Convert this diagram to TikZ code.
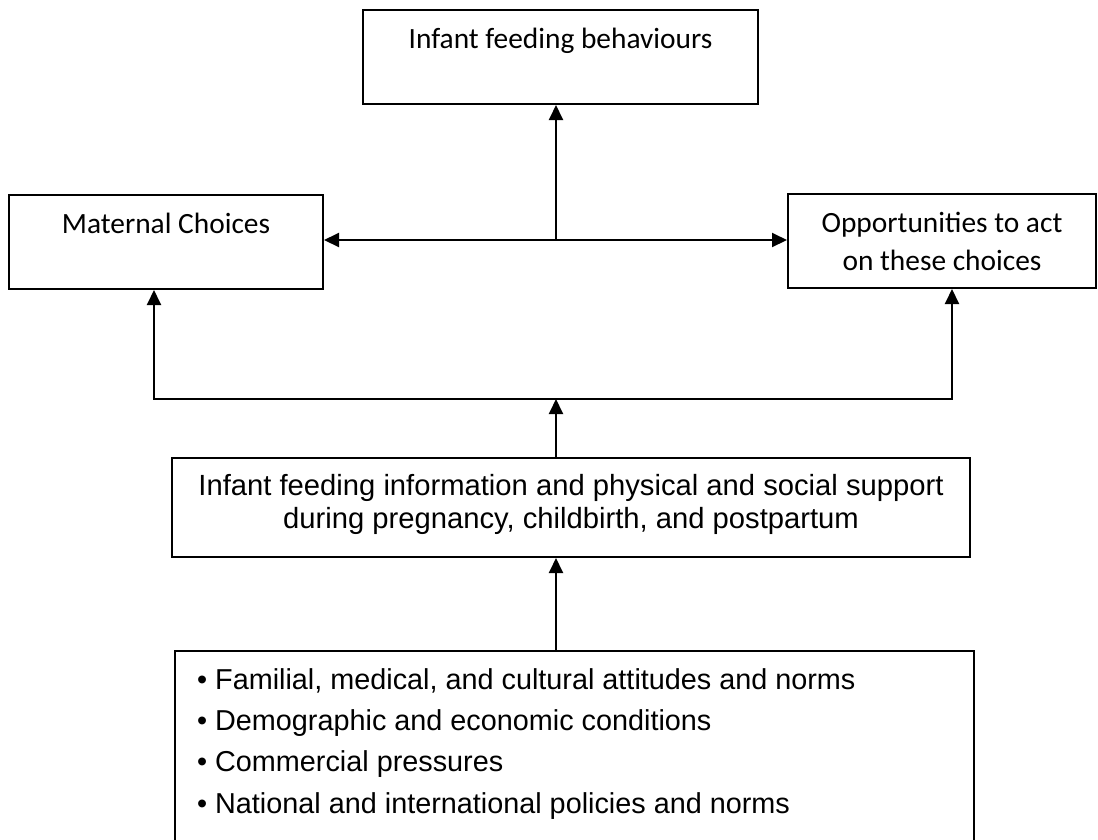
\documentclass[tikz,border=0pt]{standalone}
\usepackage{fontspec}
\newfontfamily\calibrifont{Carlito}
\newfontfamily\arialfont{Liberation Sans}
\usetikzlibrary{positioning,arrows.meta}

\newcommand{\blt}{\makebox[18pt][l]{\textbullet}}

\begin{document}
\begin{tikzpicture}[
    x=1pt, y=-1pt,
    % --- the three upper boxes (text sits on the top line) ---
    topbox/.style={draw=black, line width=2pt, align=center, inner sep=0pt,
                   minimum height=94pt,
                   font=\calibrifont\fontsize{29.4}{38}\selectfont},
    % --- support box in the middle ---
    midbox/.style={draw=black, line width=2pt, align=center, inner sep=0pt,
                   minimum width=798pt, minimum height=99pt,
                   font=\arialfont\fontsize{29.2}{33}\selectfont},
    % --- bottom box, runs off the page ---
    listbox/.style={draw=black, line width=2pt, inner sep=0pt,
                    minimum width=799pt, minimum height=260pt},
    listtext/.style={align=left, inner sep=0pt,
                     font=\arialfont\fontsize{28.8}{41.3}\selectfont},
    flow/.style={-{Triangle[length=15pt,width=14pt]}, line width=2pt, black},
  ]
  \path[use as bounding box, clip] (0,0) rectangle (1098,839);

  % ---- TOP: behaviours, choices, opportunities ---------------------------
  \node[topbox, minimum width=395pt] (behav) at (560.5,57)
        {\rule{0pt}{28pt}Infant feeding behaviours\\\rule[-8pt]{0pt}{8pt}};
  \node[topbox, minimum width=314pt] (maternal) at (166,242)
        {\rule{0pt}{28pt}Maternal Choices\\\rule[-8pt]{0pt}{8pt}};
  \node[topbox, minimum width=308pt] (opport) at (942,241)
        {\rule{0pt}{28pt}Opportunities to act\\on these choices\rule[-8pt]{0pt}{8pt}};

  \coordinate (hub) at (556,240);
  \draw[flow] (hub) -- (hub |- behav.south);
  \draw[flow] (hub) -- (hub -| maternal.east);
  \draw[flow] (hub) -- (hub -| opport.west);

  % ---- MIDDLE: information and support -----------------------------------
  \node[midbox] (support) at (571,507.5)
        {\rule{0pt}{21pt}Infant feeding information and physical and social support\\
         during pregnancy, childbirth, and postpartum\rule[-12pt]{0pt}{12pt}};

  \coordinate (split) at (556,399);
  \coordinate (lturn) at (154,399);
  \coordinate (rturn) at (952,399);
  \draw[flow] (support.north -| split) -- (split);
  \draw[flow] (split) -- (lturn) -- (lturn |- maternal.south);
  \draw[flow] (split) -- (rturn) -- (rturn |- opport.south);

  % ---- BOTTOM: context factors -------------------------------------------
  \node[listbox, anchor=north west] (factors) at (174,650) {};
  \node[listtext, anchor=north west] (factorlist) at (197,660)
        {\strut\blt Familial, medical, and cultural attitudes and norms\\
         \blt Demographic and economic conditions\\
         \blt Commercial pressures\\
         \blt National and international policies and norms};
  \draw[flow] (factors.north -| split) -- (support.south -| split);

\end{tikzpicture}
\end{document}
